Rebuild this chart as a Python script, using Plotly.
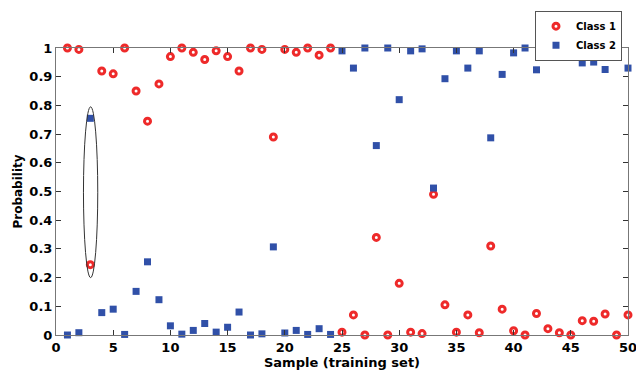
import plotly.graph_objects as go

samples = list(range(1, 51))
class1 = [1.0, 0.995, 0.245, 0.92, 0.91, 1.0, 0.85, 0.745, 0.875, 0.97,
          1.0, 0.985, 0.96, 0.99, 0.97, 0.92, 1.0, 0.995, 0.69, 0.995,
          0.985, 1.0, 0.975, 1.0, 0.01, 0.07, 0.0, 0.34, 0.0, 0.18,
          0.01, 0.005, 0.49, 0.105, 0.01, 0.07, 0.008, 0.31, 0.09, 0.015,
          0.0, 0.075, 0.022, 0.008, 0.0, 0.05, 0.048, 0.073, 0.0, 0.07]
class2 = [0.0, 0.008, 0.755, 0.078, 0.09, 0.002, 0.152, 0.255, 0.123, 0.032,
          0.003, 0.016, 0.04, 0.01, 0.027, 0.08, 0.0, 0.004, 0.307, 0.007,
          0.016, 0.002, 0.022, 0.002, 0.99, 0.93, 1.0, 0.66, 1.0, 0.82,
          0.99, 0.997, 0.512, 0.893, 0.99, 0.93, 0.99, 0.687, 0.908, 0.983,
          1.0, 0.924, 0.975, 0.99, 1.0, 0.948, 0.951, 0.925, 1.0, 0.93]
x_ticks = [0, 5, 10, 15, 20, 25, 30, 35, 40, 45, 50]
y_ticks = [0, 0.1, 0.2, 0.3, 0.4, 0.5, 0.6, 0.7, 0.8, 0.9, 1]
y_labels = ["0", "0.1", "0.2", "0.3", "0.4", "0.5", "0.6", "0.7", "0.8", "0.9", "1"]

fig = go.Figure()
fig.add_trace(go.Scatter(
    x=samples, y=class1, mode="markers", name="Class 1",
    marker=dict(symbol="circle-open", size=6, color="#ee2a2a", line=dict(width=3, color="#ee2a2a")),
    cliponaxis=False))
fig.add_trace(go.Scatter(
    x=samples, y=class2, mode="markers", name="Class 2",
    marker=dict(symbol="square", size=7, color="#3050a8"),
    cliponaxis=False))

fig.add_shape(type="circle", xref="x", yref="y", x0=2.4, x1=3.65, y0=0.2, y1=0.795,
              line=dict(color="#333333", width=1))

font_family = "DejaVu Sans"
fig.update_layout(
    width=636, height=373,
    margin=dict(l=56, r=8, t=48, b=38),
    paper_bgcolor="white", plot_bgcolor="white",
    font=dict(family=font_family, color="black", size=11),
    legend=dict(x=0.9895, y=1.13, xanchor="right", yanchor="top",
                bordercolor="#555555", borderwidth=1, bgcolor="white",
                font=dict(family=font_family, size=10, color="black", weight="bold"),
                itemwidth=30, tracegroupgap=0),
    showlegend=True,
)
fig.update_xaxes(
    range=[0, 50], tickvals=x_ticks, ticktext=[str(v) for v in x_ticks],
    ticks="inside", ticklen=5, tickcolor="#333333",
    showline=True, linecolor="#777777", linewidth=1, mirror="ticks",
    showgrid=False, zeroline=False, ticklabeloverflow="allow", automargin=False,
    tickfont=dict(family=font_family, size=13, weight="bold"),
    title=dict(text="Sample (training set)", standoff=2,
               font=dict(family=font_family, size=13, weight="bold")))
fig.update_yaxes(
    range=[0, 1], tickvals=y_ticks, ticktext=y_labels,
    ticks="inside", ticklen=5, tickcolor="#333333",
    showline=True, linecolor="#777777", linewidth=1, mirror="ticks",
    showgrid=False, zeroline=False, ticklabeloverflow="allow", automargin=False,
    tickfont=dict(family=font_family, size=13, weight="bold"),
    title=dict(text="Probability", standoff=4,
               font=dict(family=font_family, size=12, weight="bold")))

fig.write_html("out.html")
